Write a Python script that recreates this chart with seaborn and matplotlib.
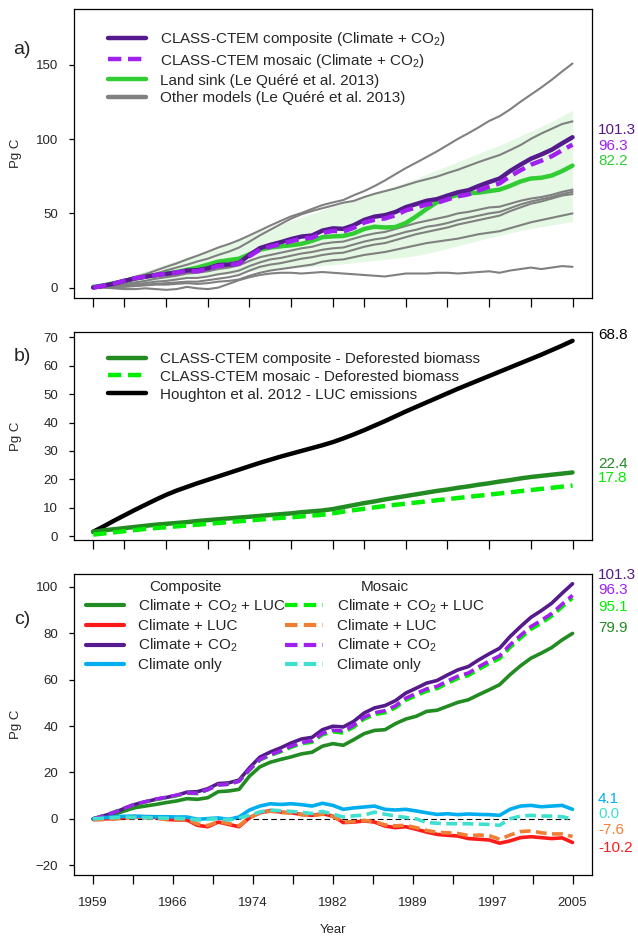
import matplotlib
matplotlib.use("Agg")

import matplotlib.pyplot as plt
import matplotlib.transforms as mtransforms
import seaborn as sns
import numpy as np

years = list(range(1959, 2006))

# ---- panel a / c : CLASS-CTEM cumulative land sink (Pg C)
composite_co2 = [0.0, 1.3, 2.6, 4.5, 6.2, 7.3, 8.4, 9.2, 10.1, 11.5,
                 11.7, 13.0, 15.2, 15.5, 16.7, 22.0, 26.6, 28.8, 30.6, 32.7,
                 34.4, 35.1, 38.4, 39.9, 39.6, 42.0, 45.6, 47.8, 48.8, 50.9,
                 54.2, 56.3, 58.5, 59.6, 62.0, 64.2, 65.6, 68.5, 71.1, 73.5,
                 78.5, 82.8, 86.8, 89.7, 92.9, 97.2, 101.3]
mosaic_co2 = [0.0, 1.3, 2.8, 4.6, 6.3, 7.4, 8.5, 9.3, 10.2, 11.2,
              11.0, 12.6, 14.6, 14.9, 16.2, 21.2, 25.6, 27.6, 29.3, 31.3,
              32.9, 33.6, 36.8, 38.2, 37.8, 40.3, 43.8, 45.7, 46.6, 48.7,
              52.0, 54.0, 56.0, 57.1, 59.4, 61.5, 62.8, 65.5, 68.0, 70.2,
              75.0, 79.0, 82.8, 85.5, 88.5, 92.5, 96.3]
composite_all = [0.0, 0.9, 1.9, 3.4, 4.8, 5.5, 6.2, 7.0, 7.7, 8.7,
                 8.4, 9.1, 11.7, 12.0, 12.7, 18.4, 22.4, 24.4, 25.6, 26.7,
                 28.0, 28.7, 31.3, 32.4, 31.7, 34.1, 36.7, 38.1, 38.4, 41.0,
                 43.0, 44.2, 46.3, 46.8, 48.5, 50.2, 51.3, 53.5, 55.6, 57.8,
                 62.1, 65.9, 69.2, 71.4, 73.8, 77.1, 79.9]
mosaic_all = [0.0, 1.4, 2.9, 4.6, 6.2, 7.3, 8.3, 9.1, 10.0, 11.0,
              10.9, 12.5, 14.6, 14.9, 16.2, 21.0, 25.3, 27.3, 28.9, 30.8,
              32.4, 33.0, 36.2, 37.5, 37.0, 39.5, 43.0, 44.9, 45.7, 47.8,
              51.1, 53.1, 55.0, 56.1, 58.4, 60.5, 61.7, 64.4, 66.9, 69.0,
              73.8, 77.8, 81.6, 84.3, 87.3, 91.3, 95.1]
composite_luc = [-0.2, 0.0, 0.1, 0.5, 0.9, 0.7, 0.6, -0.2, -0.5, -0.5,
                 -2.8, -3.4, -1.4, -2.4, -3.4, 0.5, 2.6, 3.6, 2.9, 2.6,
                 1.9, 1.5, 2.2, 1.2, -1.6, -1.4, -0.9, -1.4, -3.1, -3.8,
                 -3.4, -4.5, -5.7, -6.7, -7.1, -7.4, -8.5, -8.8, -9.1, -10.5,
                 -9.5, -8.1, -7.7, -8.1, -8.5, -8.2, -10.2]
mosaic_luc = [-0.5, -0.3, -0.1, 0.3, 0.6, 0.5, 0.3, -0.3, -0.4, -0.3,
              -2.2, -2.9, -1.2, -2.0, -3.0, 0.6, 2.5, 3.3, 2.8, 2.5,
              1.8, 1.3, 2.0, 1.0, -1.4, -1.2, -0.7, -1.2, -2.6, -3.0,
              -2.8, -3.8, -5.0, -5.8, -6.0, -6.3, -7.2, -7.0, -7.2, -8.8,
              -7.0, -5.5, -5.2, -6.0, -6.5, -6.5, -7.6]
composite_clim = [0.0, 0.5, 0.9, 1.1, 1.2, 1.0, 0.9, 0.9, 0.8, 0.8,
                  -0.2, 0.1, 0.4, -0.2, 0.8, 3.8, 5.5, 6.5, 6.2, 6.5,
                  6.1, 5.5, 6.7, 5.8, 4.1, 4.7, 5.1, 5.5, 4.1, 3.8,
                  4.1, 3.4, 2.6, 1.9, 2.2, 1.8, 2.1, 1.9, 1.8, 1.5,
                  4.1, 5.5, 5.8, 5.2, 5.5, 5.8, 4.1]
mosaic_clim = [0.0, 0.3, 0.5, 0.8, 0.6, 0.5, 0.4, 0.3, 0.2, 0.1,
               -0.5, -0.2, 0.1, -0.5, 0.3, 1.5, 3.0, 3.8, 3.5, 3.2,
               2.8, 2.3, 3.2, 2.0, 0.8, 1.3, 1.6, 2.9, 2.0, 1.2,
               0.6, 0.0, -1.6, -1.9, -2.1, -2.1, -2.1, -2.3, -2.4, -2.8,
               0.0, 1.2, 1.5, 1.2, 1.2, 0.9, 0.0]

# ---- panel a : Le Quere et al. 2013
land_sink = [0.5, 1.5, 3.0, 4.5, 6.0, 7.5, 8.5, 9.5, 10.5, 12.0,
             13.5, 15.5, 17.5, 18.5, 19.5, 22.5, 25.5, 27.0, 27.8, 28.5,
             29.5, 31.5, 34.0, 34.5, 34.8, 36.5, 39.5, 41.0, 40.5, 40.8,
             43.5, 48.0, 53.0, 57.5, 60.5, 62.5, 63.5, 64.0, 65.0, 66.0,
             68.5, 71.5, 73.5, 74.0, 75.5, 78.5, 82.2]
sink_low = [0.0, 0.3, 0.8, 1.4, 2.0, 2.8, 3.6, 4.4, 5.2, 6.0,
            6.8, 7.6, 8.4, 9.0, 9.6, 10.8, 11.8, 12.4, 12.8, 13.2,
            13.6, 14.2, 15.0, 15.5, 16.0, 16.8, 17.6, 18.4, 19.0, 19.8,
            20.6, 21.6, 23.0, 24.6, 26.4, 28.2, 30.0, 31.8, 33.6, 35.2,
            36.8, 38.4, 39.8, 41.0, 42.2, 43.4, 44.5]
sink_high = [1.0, 2.5, 4.5, 6.8, 9.0, 11.2, 13.4, 15.8, 18.0, 20.4,
             22.6, 25.0, 27.5, 29.6, 31.8, 35.0, 38.2, 40.6, 42.8, 45.0,
             47.4, 49.8, 52.4, 54.6, 56.6, 59.0, 61.6, 64.0, 66.2, 68.6,
             71.0, 73.6, 76.4, 79.2, 82.0, 84.8, 87.6, 90.4, 93.2, 96.0,
             99.0, 102.2, 105.4, 108.6, 111.8, 115.6, 119.5]
other_models = {
    "A": [0.0, 1.5, 3.0, 5.0, 7.2, 9.0, 11.5, 14.0, 16.3, 19.0,
          21.5, 24.2, 27.0, 29.3, 32.0, 35.2, 38.5, 41.8, 45.0, 48.0,
          50.3, 53.0, 55.6, 57.4, 59.0, 62.2, 65.0, 68.4, 72.2, 76.4,
          80.5, 84.2, 88.0, 91.8, 96.0, 100.2, 104.0, 108.0, 112.3, 115.5,
          120.0, 125.2, 130.0, 134.8, 140.0, 145.6, 151.0],
    "B": [0.0, 1.0, 2.5, 4.0, 5.6, 7.5, 9.4, 11.6, 13.5, 15.4,
          17.6, 19.5, 22.0, 24.2, 27.0, 31.0, 35.2, 39.0, 42.8, 46.5,
          49.4, 51.6, 53.5, 55.3, 57.2, 58.4, 61.0, 63.2, 65.0, 66.8,
          69.0, 71.2, 73.0, 74.8, 77.2, 79.4, 82.0, 84.6, 87.0, 89.3,
          92.6, 96.0, 100.2, 103.8, 107.0, 110.2, 112.0],
    "C": [0.0, 1.0, 2.0, 2.5, 3.5, 4.5, 6.0, 7.0, 8.0, 9.5,
          10.0, 11.0, 12.5, 13.5, 15.0, 18.0, 20.5, 22.0, 23.5, 25.0,
          26.5, 27.5, 29.5, 30.5, 31.0, 33.0, 35.0, 36.5, 37.5, 39.5,
          41.5, 43.5, 45.0, 46.5, 48.0, 50.0, 51.0, 52.5, 54.0, 54.5,
          56.5, 58.5, 60.0, 61.0, 62.5, 64.5, 66.0],
    "D": [0.0, 0.5, 1.0, 1.5, 2.5, 3.0, 4.0, 4.5, 5.5, 6.5,
          6.5, 7.5, 9.0, 10.0, 11.5, 14.5, 17.0, 19.0, 20.0, 21.5,
          23.0, 24.0, 25.5, 26.5, 27.0, 29.0, 31.0, 32.5, 33.5, 35.5,
          37.5, 39.0, 41.0, 42.0, 43.5, 45.5, 47.0, 48.5, 50.0, 51.0,
          53.5, 56.0, 58.0, 59.5, 61.0, 63.0, 64.5],
    "G": [0.0, 0.5, 0.5, 1.0, 1.5, 2.0, 2.5, 3.0, 3.5, 4.0,
          4.0, 5.0, 6.0, 7.0, 8.5, 11.5, 14.0, 15.5, 16.5, 18.0,
          19.5, 20.5, 22.0, 23.0, 23.5, 25.5, 27.5, 29.0, 30.0, 32.0,
          34.0, 36.0, 37.5, 39.0, 40.5, 42.5, 44.0, 45.5, 47.0, 48.5,
          51.5, 54.0, 56.5, 58.0, 60.0, 62.0, 63.0],
    "E": [0.0, 0.0, 0.5, 0.5, 1.0, 1.5, 2.0, 2.0, 2.5, 3.0,
          2.5, 3.0, 4.0, 4.5, 5.5, 8.0, 10.0, 11.5, 12.5, 13.5,
          14.5, 15.5, 17.5, 18.5, 19.0, 20.5, 22.0, 23.0, 24.0, 25.5,
          27.0, 28.5, 30.0, 31.0, 32.0, 33.0, 34.5, 36.0, 37.0, 38.0,
          40.0, 42.0, 44.0, 45.5, 47.0, 48.5, 50.0],
    "F": [0.0, 0.0, -0.5, -1.0, -1.0, -0.5, -1.0, -1.5, -1.0, 0.5,
          -0.5, -1.0, 0.0, 2.5, 5.0, 7.0, 8.5, 9.5, 10.0, 10.0,
          9.5, 10.0, 10.5, 10.0, 9.5, 9.0, 8.5, 8.0, 7.5, 8.5,
          9.5, 9.5, 9.5, 10.0, 10.0, 9.5, 10.0, 10.5, 11.0, 10.0,
          11.5, 12.5, 13.5, 12.5, 13.5, 14.5, 14.0],
}

# ---- panel b : deforested biomass / LUC emissions
defor_composite = [1.5, 2.0, 2.4, 2.8, 3.2, 3.6, 4.0, 4.3, 4.6, 4.9,
                   5.3, 5.6, 5.9, 6.2, 6.5, 6.8, 7.1, 7.4, 7.7, 8.0,
                   8.4, 8.7, 9.0, 9.5, 10.2, 10.9, 11.6, 12.2, 12.9, 13.5,
                   14.1, 14.7, 15.3, 15.9, 16.4, 17.0, 17.5, 18.1, 18.6, 19.2,
                   19.7, 20.3, 20.8, 21.2, 21.6, 22.0, 22.4]
defor_mosaic = [0.5, 0.9, 1.3, 1.7, 2.1, 2.5, 2.8, 3.1, 3.4, 3.7,
                4.0, 4.3, 4.6, 4.9, 5.2, 5.5, 5.8, 6.1, 6.4, 6.6,
                6.9, 7.2, 7.5, 8.0, 8.6, 9.1, 9.6, 10.1, 10.6, 11.0,
                11.4, 11.8, 12.2, 12.6, 13.0, 13.4, 13.8, 14.2, 14.6, 15.0,
                15.4, 15.8, 16.2, 16.6, 17.0, 17.4, 17.8]
houghton = [1.5, 3.4, 5.4, 7.3, 9.2, 11.0, 12.8, 14.5, 16.0, 17.3,
            18.6, 19.8, 21.0, 22.2, 23.4, 24.6, 25.8, 26.9, 28.0, 29.0,
            30.0, 31.0, 32.0, 33.1, 34.4, 35.8, 37.3, 38.9, 40.5, 42.2,
            43.9, 45.5, 47.1, 48.7, 50.3, 51.9, 53.4, 54.9, 56.4, 57.9,
            59.4, 60.9, 62.4, 63.9, 65.5, 67.1, 68.8]

PURPLE = "#551A8B"
VIOLET = "#A020F0"
LANDGREEN = "#32CD32"
GREY = "#808080"
DKGREEN = "#228B22"
LIME = "#00EE00"
RED = "#FF1A1A"
ORANGE = "#F07F35"
BLUE = "#00AEEF"
CYAN = "#40E0D0"
DASH = (0, (3, 1.5))

sns.set_style("ticks")
plt.rcParams["font.family"] = ["Liberation Sans", "DejaVu Sans"]
plt.rcParams["mathtext.default"] = "regular"

W, H = 638, 943
fig = plt.figure(figsize=(W / 100, H / 100), dpi=100)


def box(top, bottom):
    return [74 / W, 1 - bottom / H, (591.7 - 74) / W, (bottom - top) / H]


ax_a = fig.add_axes(box(9.3, 298))
ax_b = fig.add_axes(box(332, 540))
ax_c = fig.add_axes(box(574, 875))


def line(ax, y, color, lw, dashed=False, label="_nolegend_", z=3):
    sns.lineplot(x=years, y=y, ax=ax, color=color, linewidth=lw,
                 linestyle=DASH if dashed else "-", label=label, zorder=z)


def end_labels(ax, items):
    tr = mtransforms.blended_transform_factory(ax.transAxes, ax.transData)
    for val, ypos, col in items:
        ax.text(1.012, ypos, f"{val:.1f}", transform=tr, color=col,
                fontsize=11, ha="left", va="center", clip_on=False)


def legend(ax, x, y, handles, labels, lw, **kw):
    leg = ax.legend(handles, labels, loc="upper left",
                    bbox_to_anchor=(x / W, 1 - y / H), bbox_transform=fig.transFigure,
                    frameon=False, fontsize=11, handlelength=2.5, handletextpad=0.9,
                    labelspacing=0.25, borderpad=0, borderaxespad=0, **kw)
    for h in leg.get_lines():
        h.set_linewidth(lw)
    return leg


# ---------------- panel a
ax_a.fill_between(years, sink_low, sink_high, color=LANDGREEN, alpha=0.13, lw=0, zorder=1)
for i, (name, vals) in enumerate(other_models.items()):
    line(ax_a, vals, GREY, 1.5, label="Other models (Le Quéré et al. 2013)" if i == 0 else "_nolegend_", z=2)
line(ax_a, land_sink, LANDGREEN, 3.2, label="Land sink (Le Quéré et al. 2013)", z=3)
line(ax_a, composite_co2, PURPLE, 3.2, label="CLASS-CTEM composite (Climate + CO$_2$)", z=4)
line(ax_a, mosaic_co2, VIOLET, 3.2, dashed=True, label="CLASS-CTEM mosaic (Climate + CO$_2$)", z=5)
h, l = ax_a.get_legend_handles_labels()
order = [2, 3, 1, 0]
legend(ax_a, 108, 30, [h[i] for i in order], [l[i] for i in order], 3.2)
ax_a.set_ylim(-7, 187.5)
ax_a.set_yticks([0, 50, 100, 150])
end_labels(ax_a, [(composite_co2[-1], 106.2, PURPLE), (mosaic_co2[-1], 95.6, VIOLET),
                  (land_sink[-1], 85.3, LANDGREEN)])

# ---------------- panel b
line(ax_b, houghton, "black", 3.2, label="Houghton et al. 2012 - LUC emissions", z=3)
line(ax_b, defor_composite, DKGREEN, 3.2, label="CLASS-CTEM composite - Deforested biomass", z=4)
line(ax_b, defor_mosaic, LIME, 3.2, dashed=True, label="CLASS-CTEM mosaic - Deforested biomass", z=5)
h, l = ax_b.get_legend_handles_labels()
order = [1, 2, 0]
legend(ax_b, 108, 352, [h[i] for i in order], [l[i] for i in order], 3.2)
ax_b.set_ylim(-1.4, 71.9)
ax_b.set_yticks(range(0, 71, 10))
end_labels(ax_b, [(houghton[-1], 70.8, "black"), (defor_composite[-1], 25.5, DKGREEN),
                  (defor_mosaic[-1], 20.3, LIME)])

# ---------------- panel c
ax_c.hlines(0, years[0], years[-1], colors="black", linestyles=(0, (5, 3)), lw=0.8, zorder=1)
comp = [(composite_all, DKGREEN, "Climate + CO$_2$ + LUC"),
        (composite_luc, RED, "Climate + LUC"),
        (composite_co2, PURPLE, "Climate + CO$_2$"),
        (composite_clim, BLUE, "Climate only")]
mos = [(mosaic_all, LIME, "Climate + CO$_2$ + LUC"),
       (mosaic_luc, ORANGE, "Climate + LUC"),
       (mosaic_co2, VIOLET, "Climate + CO$_2$"),
       (mosaic_clim, CYAN, "Climate only")]
for vals, col, lab in comp:
    line(ax_c, vals, col, 2.6, label=lab, z=3)
for vals, col, lab in mos:
    line(ax_c, vals, col, 2.6, dashed=True, label=lab, z=4)
h, l = ax_c.get_legend_handles_labels()
leg1 = legend(ax_c, 86, 580, h[:4], l[:4], 3.0, title="Composite", title_fontsize=11)
ax_c.add_artist(leg1)
legend(ax_c, 285, 580, h[4:], l[4:], 3.0, title="Mosaic", title_fontsize=11)
ax_c.set_ylim(-24.2, 105.5)
ax_c.set_yticks(range(-20, 101, 20))
end_labels(ax_c, [(composite_co2[-1], 105.0, PURPLE), (mosaic_co2[-1], 98.6, VIOLET),
                  (mosaic_all[-1], 91.4, LIME), (composite_all[-1], 82.4, DKGREEN),
                  (composite_clim[-1], 8.6, BLUE), (mosaic_clim[-1], 2.0, CYAN),
                  (mosaic_luc[-1], -4.8, ORANGE), (composite_luc[-1], -12.4, RED)])

# ---------------- axes styling
ab_ticks = [1959, 1962, 1966, 1970, 1974, 1978, 1982, 1985, 1989, 1993, 1997, 2001, 2005]
c_ticks = np.linspace(1959, 2005, 13)
for ax in (ax_a, ax_b, ax_c):
    ax.set_xlim(1959 - 1.84, 2005 + 1.84)
    ax.set_xlabel("")
    ax.set_ylabel("")
    for s in ax.spines.values():
        s.set_visible(True)
        s.set_linewidth(0.9)
        s.set_color("black")
    ax.tick_params(axis="x", length=6.5, width=0.9, pad=9, labelsize=9.5, color="black")
    ax.tick_params(axis="y", length=3.5, width=0.9, pad=8, labelsize=9.5, color="black")
for ax in (ax_a, ax_b):
    ax.set_xticks(ab_ticks)
    ax.set_xticklabels([""] * len(ab_ticks))
ax_c.set_xticks(c_ticks)
ax_c.set_xticklabels([str(int(t)) if i % 2 == 0 else "" for i, t in enumerate(c_ticks)])

for ytxt, lab in [(50, "a)"), (357, "b)"), (619, "c)")]:
    fig.text(22 / W, 1 - ytxt / H, lab, fontsize=14, ha="center", va="center")
for top, bottom in [(9.3, 298), (332, 540), (574, 875)]:
    fig.text(16 / W, 1 - (top + bottom) / 2 / H, "Pg C", rotation=90, fontsize=9.5,
             ha="center", va="center")
fig.text(333 / W, 1 - 930 / H, "Year", fontsize=9.5, ha="center", va="center")

fig.savefig("out.png", dpi=100)
